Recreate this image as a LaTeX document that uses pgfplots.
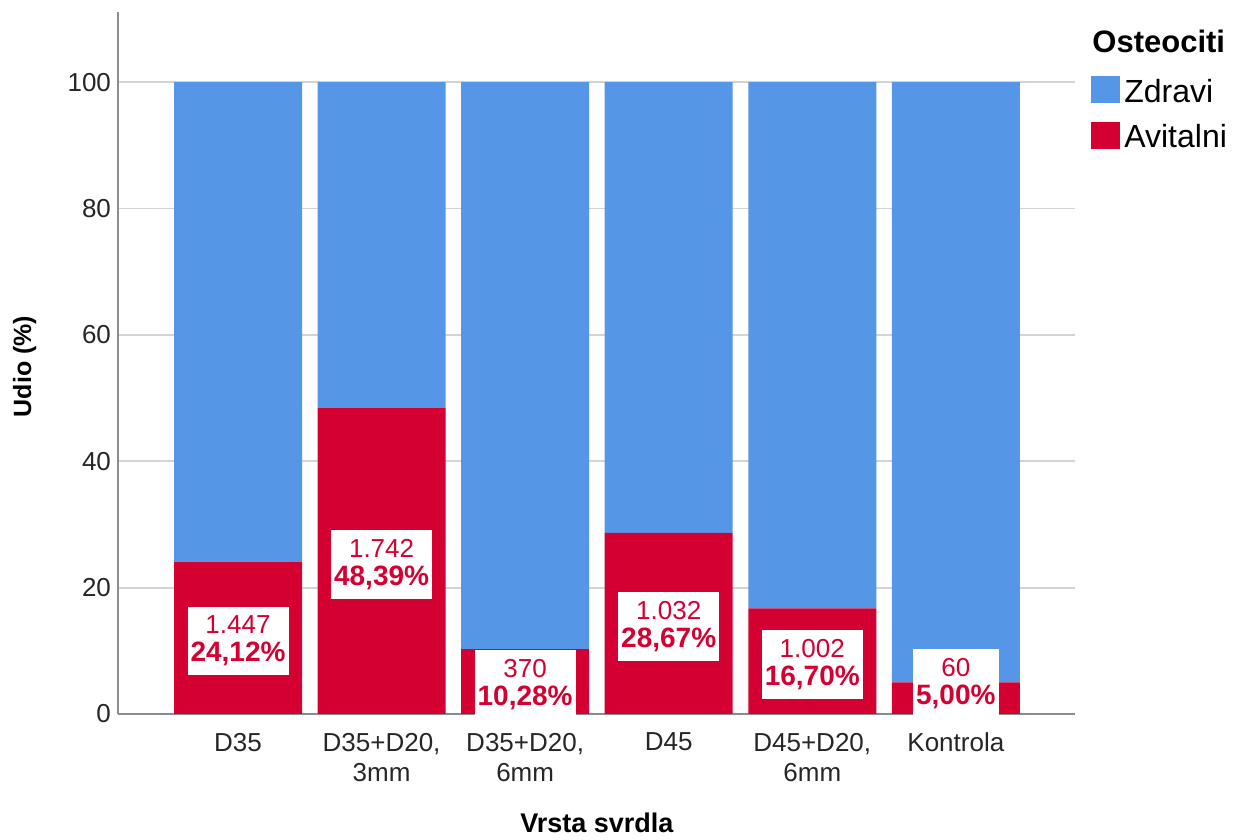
\documentclass[border=0pt]{standalone}
\usepackage{pgfplots}
\pgfplotsset{compat=1.18}
\usepackage{pgfplotstable}
\usepackage{fontspec}
\setmainfont{Liberation Sans}
\definecolor{zblue}{RGB}{85,150,230}
\definecolor{ared}{RGB}{213,0,50}
\definecolor{gridc}{RGB}{212,212,212}
\definecolor{axc}{RGB}{140,140,140}
\pgfplotstableread{
x av zd
0 24.12 75.88
1 48.39 51.61
2 10.28 89.72
3 28.67 71.33
4 16.70 83.30
5 5.00 95.00
}\data
\protected\def\pct#1{{\bfseries\fontsize{14}{14}\selectfont #1}}
\protected\def\nl{\\}
\begin{document}
\begin{tikzpicture}
\begin{axis}[
  at={(0,0)}, anchor=south west,
  scale only axis, width=478.5pt, height=351pt,
  xmin=-0.836, xmax=5.83, ymin=0, ymax=111.1,
  ybar stacked, bar width=64pt,
  axis x line=bottom, axis y line=left,
  axis line style={-, draw=axc, line width=1pt},
  xtick={0,1,2,3,4,5},
  xticklabels={D35,{D35+D20,\\3mm},{D35+D20,\\6mm},D45,{D45+D20,\\6mm},Kontrola},
  ytick={0,20,40,60,80,100},
  xticklabel style={align=center, font=\fontsize{13}{15}\selectfont, yshift=-6pt, text=black!85},
  yticklabel style={font=\fontsize{13}{15}\selectfont, text=black!85},
  /pgf/number format/assume math mode=true,
  major tick length=0pt,
  ymajorgrids, grid style={draw=gridc, line width=0.9pt},
  ylabel={\bfseries Udio (\%)},
  ylabel style={at={(axis description cs:-0.0909,0.495)}, anchor=base, rotate=0, font=\fontsize{12.5}{15}\selectfont},
  xlabel={\bfseries Vrsta svrdla},
  xlabel style={at={(axis description cs:0.5005,-0.1695)}, anchor=base, font=\fontsize{13.5}{16}\selectfont},
  legend style={at={(axis description cs:1.0167,0.9088)}, anchor=north west, draw=none, fill=none,
    inner sep=0pt, font=\fontsize{16}{19}\selectfont, row sep=8.25pt, column sep=2pt,
    nodes={inner sep=0pt}},
  legend cell align=left,
  legend image code/.code={\fill[#1] (0pt,-5.75pt) rectangle (14.5pt,7.75pt);},
  clip=false,
]
\addplot[fill=ared, draw=none, forget plot] table[x=x,y=av]{\data};
\addplot[fill=zblue, draw=none, forget plot] table[x=x,y=zd]{\data};
% label boxes: pgfplots centres each label in an invisible bar from 0 to y
\addplot[forget plot, stack plots=false, only marks, mark=none, draw=none, fill=none,
  point meta=explicit symbolic, nodes near coords,
  every node near coord/.style={anchor=center, fill=white, align=center, inner xsep=1.5pt, inner ysep=4.5pt, text=ared, font=\fontsize{13}{14}\selectfont, yshift=0pt}]
  coordinates {
  (0,23.12) [{1.447\nl\pct{24,12\%}}]
  (1,47.39) [{1.742\nl\pct{48,39\%}}]
  (2,9.28) [{370\nl\pct{10,28\%}}]
  (3,27.67) [{1.032\nl\pct{28,67\%}}]
  (4,15.70) [{1.002\nl\pct{16,70\%}}]
  (5,9.60) [{60\nl\pct{5,00\%}}]
  };
\addlegendimage{fill=zblue, draw=none}
\addlegendentry{Zdravi}
\addlegendimage{fill=ared, draw=none}
\addlegendentry{Avitalni}
\node[anchor=base west, inner sep=0pt, font=\bfseries\fontsize{15.5}{18}\selectfont] at (axis description cs:1.0178,0.942) {Osteociti};
\end{axis}
\path[use as bounding box] (-59pt,-63pt) rectangle (563pt,357pt);
\end{tikzpicture}
\end{document}
